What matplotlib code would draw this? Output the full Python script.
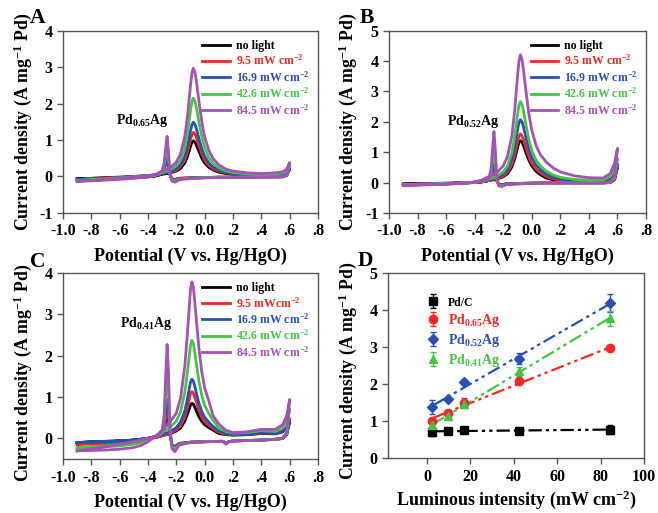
import numpy as np
import matplotlib.pyplot as plt

plt.rcParams['font.family'] = 'Liberation Serif'
plt.rcParams['font.weight'] = 'bold'
plt.rcParams['axes.labelweight'] = 'bold'
plt.rcParams['mathtext.fontset'] = 'custom'
plt.rcParams['mathtext.rm'] = 'Liberation Serif:bold'
plt.rcParams['mathtext.it'] = 'Liberation Serif:bold'
plt.rcParams['mathtext.bf'] = 'Liberation Serif:bold'
plt.rcParams['mathtext.default'] = 'rm'
plt.rcParams['axes.unicode_minus'] = False

# potential grids (V vs. Hg/HgO): forward scan then reverse scan
e_fwd = [-0.9, -0.8, -0.7, -0.6, -0.5, -0.45, -0.4, -0.35, -0.3, -0.25, -0.2, -0.17, -0.14, -0.12,
         -0.1, -0.09, -0.08, -0.07, -0.06, -0.04, -0.02, 0.0, 0.03, 0.06, 0.1, 0.15, 0.2, 0.3, 0.4,
         0.5, 0.55, 0.58, 0.6]
e_rev = [0.6, 0.58, 0.55, 0.5, 0.4, 0.3, 0.2, 0.17, 0.15, 0.13, 0.1, 0.0, -0.1, -0.18, -0.21, -0.23,
         -0.245, -0.255, -0.265, -0.275, -0.285, -0.3, -0.33, -0.4, -0.5, -0.6, -0.7, -0.8, -0.9]

# current density (A mg-1 Pd), rows: no light, 9.5, 16.9, 42.6, 84.5 mW cm-2
a_fwd = [
    [-0.07, -0.06, -0.05, -0.04, -0.03, -0.02, -0.01, 0.01, 0.06, 0.09, 0.15, 0.22, 0.37, 0.56, 0.82, 0.94, 0.98, 0.95, 0.88, 0.69, 0.5, 0.37, 0.25, 0.18, 0.12, 0.08, 0.06, 0.04, 0.03, 0.04, 0.06, 0.11, 0.2],
    [-0.08, -0.07, -0.06, -0.05, -0.03, -0.02, -0.01, 0.01, 0.08, 0.11, 0.17, 0.27, 0.45, 0.69, 1.01, 1.15, 1.21, 1.18, 1.09, 0.84, 0.62, 0.45, 0.3, 0.21, 0.15, 0.1, 0.07, 0.05, 0.04, 0.05, 0.07, 0.12, 0.22],
    [-0.09, -0.08, -0.07, -0.05, -0.04, -0.02, -0.01, 0.02, 0.09, 0.12, 0.21, 0.32, 0.56, 0.85, 1.25, 1.42, 1.49, 1.45, 1.34, 1.04, 0.76, 0.56, 0.37, 0.26, 0.18, 0.11, 0.08, 0.06, 0.05, 0.06, 0.08, 0.14, 0.25],
    [-0.11, -0.1, -0.08, -0.06, -0.04, -0.03, -0.01, 0.03, 0.11, 0.17, 0.29, 0.45, 0.79, 1.22, 1.8, 2.05, 2.15, 2.09, 1.94, 1.49, 1.09, 0.79, 0.52, 0.36, 0.24, 0.15, 0.11, 0.07, 0.06, 0.07, 0.1, 0.16, 0.3],
    [-0.13, -0.12, -0.1, -0.08, -0.05, -0.03, -0.01, 0.04, 0.15, 0.22, 0.39, 0.62, 1.09, 1.68, 2.49, 2.83, 2.97, 2.89, 2.68, 2.06, 1.5, 1.09, 0.71, 0.49, 0.32, 0.2, 0.15, 0.1, 0.08, 0.1, 0.13, 0.2, 0.38],
]
a_rev = [
    [0.2, 0.03, -0.01, -0.01, -0.01, -0.02, -0.02, -0.02, -0.02, -0.02, -0.02, -0.03, -0.04, -0.05, -0.08, -0.07, 0.05, 0.3, 0.48, 0.35, 0.18, 0.08, 0.04, 0.02, 0.0, -0.02, -0.03, -0.05, -0.07],
    [0.22, 0.03, -0.01, -0.01, -0.01, -0.02, -0.02, -0.02, -0.02, -0.02, -0.02, -0.03, -0.04, -0.05, -0.09, -0.08, 0.05, 0.32, 0.53, 0.38, 0.2, 0.09, 0.05, 0.02, 0.0, -0.02, -0.04, -0.06, -0.08],
    [0.25, 0.04, -0.01, -0.01, -0.01, -0.02, -0.02, -0.02, -0.02, -0.02, -0.02, -0.03, -0.04, -0.06, -0.1, -0.09, 0.06, 0.36, 0.58, 0.42, 0.22, 0.1, 0.05, 0.02, 0.0, -0.03, -0.05, -0.07, -0.09],
    [0.3, 0.05, 0.0, -0.01, -0.01, -0.02, -0.02, -0.02, -0.02, -0.02, -0.02, -0.03, -0.05, -0.07, -0.12, -0.1, 0.08, 0.5, 0.82, 0.58, 0.3, 0.12, 0.06, 0.02, -0.01, -0.04, -0.06, -0.09, -0.11],
    [0.38, 0.06, 0.0, -0.01, -0.02, -0.02, -0.03, -0.03, -0.03, -0.03, -0.03, -0.04, -0.06, -0.09, -0.16, -0.13, 0.1, 0.68, 1.1, 0.78, 0.38, 0.15, 0.07, 0.02, -0.02, -0.05, -0.08, -0.11, -0.13],
]
b_fwd = [
    [-0.05, -0.04, -0.04, -0.03, -0.02, -0.01, 0.0, 0.02, 0.07, 0.1, 0.19, 0.29, 0.51, 0.78, 1.16, 1.32, 1.38, 1.34, 1.24, 0.97, 0.73, 0.55, 0.37, 0.26, 0.15, 0.09, 0.06, 0.04, 0.03, 0.05, 0.12, 0.3, 0.5],
    [-0.06, -0.05, -0.04, -0.03, -0.02, -0.01, 0.0, 0.03, 0.08, 0.12, 0.21, 0.34, 0.59, 0.9, 1.34, 1.53, 1.6, 1.55, 1.44, 1.13, 0.84, 0.63, 0.44, 0.33, 0.2, 0.12, 0.08, 0.05, 0.04, 0.05, 0.12, 0.3, 0.53],
    [-0.07, -0.06, -0.05, -0.04, -0.02, -0.01, 0.0, 0.04, 0.1, 0.15, 0.27, 0.43, 0.76, 1.17, 1.73, 1.97, 2.07, 2.01, 1.87, 1.46, 1.09, 0.82, 0.57, 0.43, 0.28, 0.17, 0.11, 0.07, 0.05, 0.07, 0.15, 0.36, 0.62],
    [-0.08, -0.07, -0.06, -0.04, -0.03, -0.01, 0.01, 0.05, 0.12, 0.19, 0.35, 0.55, 0.97, 1.5, 2.23, 2.55, 2.67, 2.59, 2.4, 1.88, 1.4, 1.05, 0.74, 0.55, 0.38, 0.25, 0.17, 0.1, 0.08, 0.09, 0.2, 0.45, 0.78],
    [-0.09, -0.08, -0.07, -0.05, -0.03, -0.01, 0.02, 0.08, 0.2, 0.3, 0.55, 0.86, 1.52, 2.36, 3.5, 4.0, 4.21, 4.08, 3.78, 2.98, 2.25, 1.72, 1.22, 0.92, 0.68, 0.48, 0.35, 0.22, 0.16, 0.15, 0.3, 0.65, 1.13],
]
b_rev = [
    [0.5, 0.1, 0.0, -0.01, -0.01, -0.01, -0.01, -0.01, -0.01, -0.01, -0.01, -0.02, -0.03, -0.04, -0.07, -0.06, 0.05, 0.25, 0.4, 0.3, 0.15, 0.07, 0.03, 0.01, -0.01, -0.02, -0.03, -0.04, -0.05],
    [0.53, 0.1, 0.0, -0.01, -0.01, -0.01, -0.01, -0.01, -0.01, -0.01, -0.01, -0.02, -0.03, -0.04, -0.08, -0.07, 0.05, 0.3, 0.5, 0.36, 0.18, 0.08, 0.04, 0.01, -0.01, -0.03, -0.04, -0.05, -0.06],
    [0.62, 0.12, 0.0, -0.01, -0.01, -0.01, -0.01, -0.01, -0.01, -0.01, -0.01, -0.02, -0.03, -0.05, -0.09, -0.08, 0.06, 0.38, 0.6, 0.42, 0.2, 0.09, 0.04, 0.01, -0.02, -0.03, -0.05, -0.06, -0.07],
    [0.78, 0.15, 0.01, -0.01, -0.01, -0.01, -0.01, -0.01, -0.01, -0.01, -0.01, -0.02, -0.04, -0.06, -0.1, -0.09, 0.1, 0.65, 1.04, 0.7, 0.3, 0.11, 0.05, 0.01, -0.02, -0.04, -0.05, -0.07, -0.08],
    [1.13, 0.2, 0.02, -0.01, -0.02, -0.02, -0.02, -0.02, -0.02, -0.02, -0.02, -0.03, -0.05, -0.07, -0.13, -0.11, 0.15, 1.05, 1.68, 1.1, 0.45, 0.15, 0.06, 0.01, -0.03, -0.05, -0.06, -0.08, -0.09],
]
c_fwd = [
    [-0.1, -0.09, -0.08, -0.06, -0.04, -0.02, 0.0, 0.03, 0.07, 0.11, 0.18, 0.25, 0.42, 0.6, 0.8, 0.85, 0.83, 0.76, 0.68, 0.52, 0.41, 0.33, 0.26, 0.2, 0.12, 0.09, 0.08, 0.09, 0.12, 0.11, 0.16, 0.25, 0.4],
    [-0.14, -0.13, -0.12, -0.1, -0.07, -0.04, -0.01, 0.02, 0.06, 0.12, 0.2, 0.3, 0.52, 0.76, 1.08, 1.13, 1.1, 1.0, 0.9, 0.68, 0.52, 0.42, 0.32, 0.24, 0.15, 0.1, 0.09, 0.1, 0.13, 0.12, 0.18, 0.28, 0.48],
    [-0.1, -0.09, -0.08, -0.06, -0.04, -0.02, 0.01, 0.05, 0.1, 0.15, 0.26, 0.4, 0.66, 0.98, 1.36, 1.43, 1.39, 1.27, 1.12, 0.85, 0.65, 0.51, 0.39, 0.29, 0.18, 0.12, 0.1, 0.1, 0.14, 0.12, 0.17, 0.26, 0.42],
    [-0.22, -0.21, -0.2, -0.18, -0.14, -0.1, -0.04, 0.03, 0.14, 0.25, 0.42, 0.64, 1.11, 1.64, 2.25, 2.37, 2.3, 2.1, 1.85, 1.38, 1.04, 0.8, 0.6, 0.44, 0.25, 0.17, 0.13, 0.14, 0.19, 0.17, 0.26, 0.42, 0.72],
    [-0.3, -0.29, -0.28, -0.26, -0.22, -0.17, -0.08, 0.04, 0.2, 0.37, 0.61, 0.97, 1.74, 2.6, 3.6, 3.78, 3.67, 3.33, 2.93, 2.17, 1.6, 1.23, 0.9, 0.55, 0.35, 0.2, 0.14, 0.16, 0.22, 0.22, 0.33, 0.55, 0.94],
]
c_rev = [
    [0.4, 0.1, 0.0, -0.02, -0.04, -0.05, -0.06, -0.08, -0.12, -0.07, -0.07, -0.08, -0.09, -0.12, -0.2, -0.16, 0.1, 0.45, 0.6, 0.42, 0.2, 0.08, 0.04, 0.0, -0.04, -0.06, -0.07, -0.08, -0.1],
    [0.48, 0.1, 0.0, -0.02, -0.04, -0.05, -0.06, -0.08, -0.12, -0.07, -0.07, -0.08, -0.09, -0.13, -0.22, -0.17, 0.12, 0.52, 0.7, 0.5, 0.23, 0.09, 0.04, -0.01, -0.06, -0.09, -0.11, -0.12, -0.14],
    [0.42, 0.1, 0.0, -0.02, -0.04, -0.05, -0.06, -0.08, -0.13, -0.07, -0.07, -0.08, -0.09, -0.13, -0.22, -0.17, 0.15, 0.7, 0.95, 0.65, 0.3, 0.1, 0.05, 0.0, -0.04, -0.06, -0.07, -0.08, -0.1],
    [0.72, 0.12, 0.0, -0.02, -0.04, -0.05, -0.06, -0.08, -0.13, -0.07, -0.07, -0.08, -0.1, -0.14, -0.25, -0.2, 0.2, 1.1, 1.57, 1.05, 0.45, 0.14, 0.06, -0.02, -0.09, -0.14, -0.18, -0.2, -0.22],
    [0.94, 0.15, 0.0, -0.02, -0.04, -0.05, -0.06, -0.08, -0.14, -0.07, -0.07, -0.08, -0.1, -0.16, -0.32, -0.25, 0.3, 1.6, 2.27, 1.5, 0.6, 0.18, 0.07, 0.0, -0.08, -0.14, -0.2, -0.25, -0.3],
]

light_labels = ['no light', '9.5 mW cm$^{-2}$', '16.9 mW cm$^{-2}$', '42.6 mW cm$^{-2}$', '84.5 mW cm$^{-2}$']
light_labels_c = ['no light', '9.5 mWcm$^{-2}$', '16.9 mW cm$^{-2}$', '42.6 mW cm$^{-2}$', '84.5 mW cm$^{-2}$']
cv_colors = ['#000000', '#f02828', '#2850b4', '#46c346', '#a452b4']
pot_ticks = [-1.0, -0.8, -0.6, -0.4, -0.2, 0.0, 0.2, 0.4, 0.6, 0.8]
pot_ticklabels = ['-1.0', '-.8', '-.6', '-.4', '-.2', '0.0', '.2', '.4', '.6', '.8']

# panel D: peak current vs luminous intensity
intensity = [2.5, 9.5, 16.9, 42.6, 84.5]
pdc = [0.71, 0.73, 0.75, 0.74, 0.77]
pdc_err = [0.1, 0.04, 0.03, 0.03, 0.12]
pd065 = [1.01, 1.21, 1.5, 2.07, 2.96]
pd065_err = [0.05, 0.05, 0.12, 0.07, 0.08]
pd052 = [1.38, 1.6, 2.05, 2.68, 4.19]
pd052_err = [0.2, 0.06, 0.05, 0.15, 0.25]
pd041 = [0.89, 1.14, 1.45, 2.34, 3.78]
pd041_err = [0.07, 0.06, 0.1, 0.12, 0.2]
d_labels = ['Pd/C', 'Pd$_{0.65}$Ag', 'Pd$_{0.52}$Ag', 'Pd$_{0.41}$Ag']

SPINE = '#555555'
YLABEL = 'Current density (A mg$^{-1}$ Pd)'


def style_axes(ax, label_y=0.5):
    for side in ['top', 'right', 'bottom', 'left']:
        ax.spines[side].set_color(SPINE)
        ax.spines[side].set_linewidth(1.0)
    ax.tick_params(direction='out', length=4, width=1, color=SPINE, labelsize=11.5,
                   top=False, right=False)
    ax.set_ylabel(YLABEL, fontsize=12.8)
    ax.yaxis.set_label_coords(-0.115, label_y)


def cv_panel(ax, fwd, rev, ylim, labels, sample, sample_xy, label_y=0.5):
    for i in range(5):
        ax.plot(e_fwd + e_rev, fwd[i] + rev[i], color=cv_colors[i], lw=2.0,
                label=labels[i], solid_joinstyle='round')
    ax.set_xlim(-1.0, 0.8)
    ax.set_ylim(*ylim)
    ax.set_xticks(pot_ticks)
    ax.set_xticklabels(pot_ticklabels)
    ax.set_yticks(range(int(np.ceil(ylim[0])), int(ylim[1]) + 1))
    style_axes(ax, label_y)
    ax.set_xlabel('Potential (V vs. Hg/HgO)', fontsize=13, labelpad=6)
    ax.text(sample_xy[0], sample_xy[1], sample, fontsize=10, ha='center', va='center')
    leg = ax.legend(frameon=False, loc='upper right', bbox_to_anchor=(1.0, 1.0),
                    fontsize=8.5, handlelength=2.3, handletextpad=0.5,
                    labelspacing=0.15, borderaxespad=0.35)
    for txt, col in zip(leg.get_texts(), cv_colors):
        txt.set_color(col)


fig = plt.figure(figsize=(6.58, 5.13), dpi=100)
ax_a = fig.add_axes([0.0957, 0.585, 0.3875, 0.355])
ax_b = fig.add_axes([0.5912, 0.585, 0.3906, 0.355])
ax_c = fig.add_axes([0.0957, 0.105, 0.3875, 0.363])
ax_d = fig.add_axes([0.5897, 0.107, 0.389, 0.361])

cv_panel(ax_a, a_fwd, a_rev, (-1, 4), light_labels, 'Pd$_{0.65}$Ag', (-0.44, 1.55))
cv_panel(ax_b, b_fwd, b_rev, (-1, 5), light_labels, 'Pd$_{0.52}$Ag', (-0.41, 2.0))
cv_panel(ax_c, c_fwd, c_rev, (-0.5, 4), light_labels_c, 'Pd$_{0.41}$Ag', (-0.41, 2.77), 0.465)

# panel D
d_colors = ['#000000', '#f02828', '#2850b4', '#46c346']
d_sets = [(pdc, pdc_err, 's'), (pd065, pd065_err, 'o'), (pd052, pd052_err, 'D'), (pd041, pd041_err, '^')]
x = np.array(intensity)
for (vals, err, mk), col, lab in zip(d_sets, d_colors, d_labels):
    slope, icpt = np.polyfit(x, vals, 1)
    ax_d.plot(x, slope * x + icpt, color=col, lw=1.6,
              linestyle=(0, (6, 1.8, 1.5, 1.8, 1.5, 1.8)))
    ax_d.errorbar(x, vals, yerr=err, fmt=mk, color=col, ms=6 if mk != 'D' else 5.5,
                  ecolor=col, elinewidth=1, capsize=2.5, label=lab, zorder=3)
ax_d.set_xlim(-18, 100)
ax_d.set_ylim(0, 5)
ax_d.set_xticks([0, 20, 40, 60, 80, 100])
ax_d.set_yticks([0, 1, 2, 3, 4, 5])
style_axes(ax_d, 0.47)
ax_d.set_xlabel('Luminous intensity (mW cm$^{-2}$)', fontsize=13, labelpad=3)
leg = ax_d.legend(frameon=False, loc='upper left', bbox_to_anchor=(0.1, 0.94),
                  fontsize=10, handletextpad=0.6, labelspacing=0.2, numpoints=1,
                  handlelength=1.0)
for txt, col in zip(leg.get_texts(), d_colors):
    txt.set_color(col)
leg.get_texts()[0].set_fontsize(8.5)

# panel letters
for letter, (fx, fy) in zip('ABCD', [(38, 18), (367, 18), (38, 262), (365, 261)]):
    fig.text(fx / 658, 1 - fy / 513, letter, fontsize=15.5, ha='center', va='center')

fig.savefig('out.png', dpi=100)
